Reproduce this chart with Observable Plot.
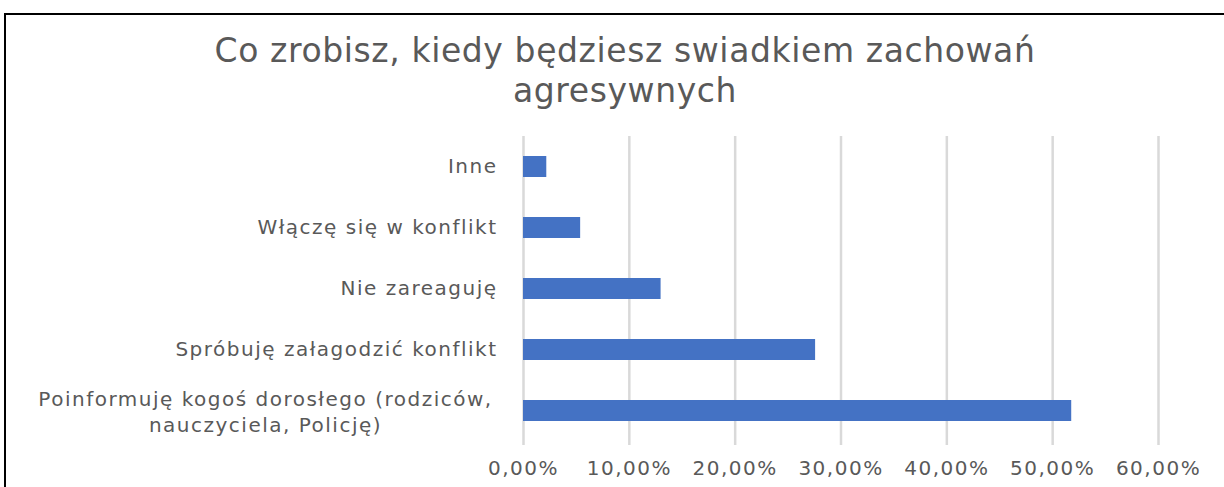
<!DOCTYPE html>
<html>
<head>
<meta charset="utf-8">
<script src="https://cdn.jsdelivr.net/npm/d3@7"></script>
<script src="https://cdn.jsdelivr.net/npm/@observablehq/plot@0.6"></script>
<style>
  html, body { margin: 0; padding: 0; background: #fff; }
  #wrap { position: relative; width: 1224px; height: 487px; overflow: hidden; background: #fff; }
  #frame { position: absolute; left: 4px; top: 13px; width: 1300px; height: 600px;
           border-left: 2px solid #000; border-top: 2px solid #000; box-sizing: border-box; }
  #title { position: absolute; left: 0; top: 31px; width: 1250px; text-align: center;
           font-family: "DejaVu Sans", sans-serif; font-size: 33px; line-height: 40px; color: #595959;
           letter-spacing: 0.6px; }
  #chart { position: absolute; left: 0; top: 120px; }
  #chart svg text { letter-spacing: 1.5px; }
</style>
</head>
<body>
<div id="wrap">
  <div id="frame"></div>
  <div id="title">Co zrobisz, kiedy będziesz swiadkiem zachowań<br>agresywnych</div>
  <div id="chart"></div>
</div>
<script>
const categories = [
  "Inne",
  "Włączę się w konflikt",
  "Nie zareaguję",
  "Spróbuję załagodzić konflikt",
  "Poinformuję kogoś dorosłego (rodziców,\nnauczyciela, Policję)"
];
const values = [0.022, 0.054, 0.130, 0.276, 0.518];
const xTicks = [0, 0.1, 0.2, 0.3, 0.4, 0.5, 0.6];

const data = categories.map((c, i) => ({category: c, value: values[i]}));
const pl = d3.formatLocale({decimal: ",", thousands: " ", grouping: [3], currency: ["", " zł"]});
const fmt = pl.format(".2%");
const longLabels = categories.filter(c => c.includes("\n"));
const shortLabels = categories.filter(c => !c.includes("\n"));

const chart = Plot.plot({
  width: 1224,
  height: 367,
  marginLeft: 523,
  marginRight: 66,
  marginTop: 16,
  marginBottom: 45,
  style: {fontFamily: "DejaVu Sans, sans-serif", fontSize: "20px", color: "#595959", background: "transparent"},
  x: {domain: [0, 0.6], label: null},
  y: {domain: categories, paddingInner: 0.65, paddingOuter: 0.325, label: null},
  marks: [
    Plot.ruleX(xTicks, {stroke: "#d9d9d9", strokeWidth: 2.5, insetBottom: -3}),
    Plot.barX(data, {x: "value", y: "category", fill: "#4472C4"}),
    Plot.axisX({ticks: xTicks, tickFormat: fmt, tickSize: 0, tickPadding: 18, fill: "#595959", fontSize: 20, label: null}),
    Plot.axisY({ticks: shortLabels, tickSize: 0, tickPadding: 26, fill: "#595959", fontSize: 20, label: null}),
    Plot.axisY({ticks: longLabels, tickSize: 0, tickPadding: 258, textAnchor: "middle", lineHeight: 1.3, fill: "#595959", fontSize: 20, label: null})
  ]
});
document.getElementById("chart").appendChild(chart);
</script>
</body>
</html>
